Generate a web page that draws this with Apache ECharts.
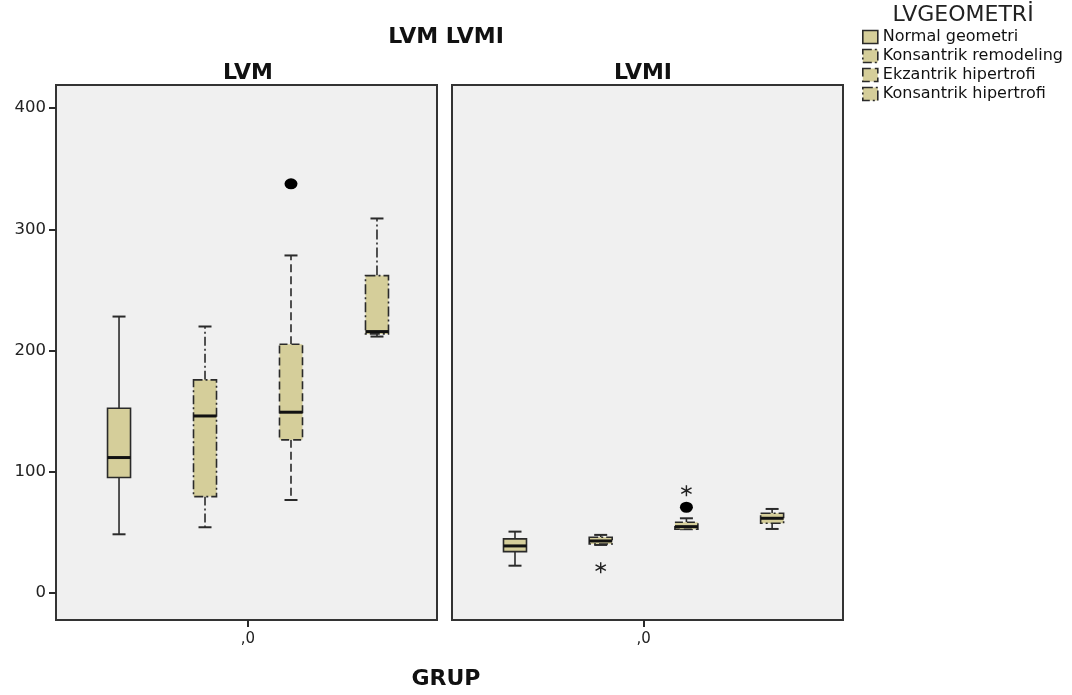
<!DOCTYPE html>
<html>
<head>
<meta charset="utf-8">
<script src="https://cdn.jsdelivr.net/npm/echarts@6/dist/echarts.min.js"></script>
<style>
  html, body { margin: 0; padding: 0; background: #ffffff; }
  #chart { width: 1072px; height: 695px; }
</style>
</head>
<body>
<div id="chart"></div>
<script>
// LV geometry groups (legend) and the two measured variables (panels)
const groups = ['Normal geometri', 'Konsantrik remodeling', 'Ekzantrik hipertrofi', 'Konsantrik hipertrofi'];
const panels = ['LVM', 'LVMI'];
const groupLabel = ',0';
const yTicks = [0, 100, 200, 300, 400];

// five-number summaries per group: [min, Q1, median, Q3, max]
const lvmBoxes = [
  [48.4, 95.2, 111.7, 152.4, 228.0],
  [54.2, 79.5, 146.0, 175.8, 219.8],
  [76.7, 126.3, 149.1, 205.2, 278.4],
  [211.5, 213.7, 215.6, 261.8, 308.9]
];
const lvmiBoxes = [
  [22.5, 34.1, 38.8, 44.6, 50.6],
  [39.6, 40.4, 42.9, 46.0, 47.9],
  [52.6, 52.6, 54.7, 58.3, 61.6],
  [52.8, 57.5, 61.6, 65.8, 69.3]
];

// outliers (circle) and extremes (asterisk): [group index, value]
const lvmOutliers = [[2, 337.5]];
const lvmExtremes = [];
const lvmiOutliers = [[2, 70.7]];
const lvmiExtremes = [[1, 20.9], [2, 84.4]];

// border dash pattern per group
const dashes = [null, [9, 3, 2, 3], [8, 4], [10, 3, 2, 3]];

const FILL = '#d5ce9a';
const INK = '#2a2a2a';
const FONT = 'DejaVu Sans';
const Y_MIN = -22.3, Y_MAX = 419;

// asterisk symbol: three crossing bars
const STAR = 'path://M-1.2,-10L1.2,-10L1.2,10L-1.2,10Z' +
  'M8.06,-6.04L9.26,-3.96L-8.06,6.04L-9.26,3.96Z' +
  'M9.26,3.96L8.06,6.04L-9.26,-3.96L-8.06,-6.04Z';

function boxRenderer(dash) {
  return function (params, api) {
    const x = api.value(0);
    const pt = i => api.coord([x, api.value(i)]);
    const lo = pt(1), q1 = pt(2), md = pt(3), q3 = pt(4), hi = pt(5);
    const cx = lo[0];
    const hw = 11.5, cw = 6.5;
    const dashed = { stroke: INK, lineWidth: 1.6, lineDash: dash, fill: null };
    const solid = { stroke: INK, lineWidth: 2, fill: null };
    return {
      type: 'group',
      children: [
        { type: 'line', shape: { x1: cx, y1: q3[1], x2: cx, y2: hi[1] }, style: dashed },
        { type: 'line', shape: { x1: cx, y1: q1[1], x2: cx, y2: lo[1] }, style: dashed },
        { type: 'line', shape: { x1: cx - cw, y1: hi[1], x2: cx + cw, y2: hi[1] }, style: solid },
        { type: 'line', shape: { x1: cx - cw, y1: lo[1], x2: cx + cw, y2: lo[1] }, style: solid },
        { type: 'rect', shape: { x: cx - hw, y: q3[1], width: 2 * hw, height: q1[1] - q3[1] },
          style: { fill: FILL, stroke: INK, lineWidth: 1.6, lineDash: dash } },
        { type: 'line', shape: { x1: cx - hw, y1: md[1], x2: cx + hw, y2: md[1] },
          style: { stroke: '#111', lineWidth: 3 } }
      ]
    };
  };
}

function xAxisFor(gridIndex, min, max) {
  return {
    type: 'value', gridIndex, min, max, position: 'bottom',
    axisLine: { show: false, onZero: false },
    splitLine: { show: false },
    axisTick: { show: true, customValues: [1.5], length: 7, lineStyle: { color: INK, width: 2 } },
    axisLabel: { show: true, customValues: [1.5], formatter: () => groupLabel,
      fontFamily: FONT, fontSize: 15, color: '#222', margin: 12 }
  };
}

const boxSets = [lvmBoxes, lvmiBoxes];
const outlierSets = [lvmOutliers, lvmiOutliers];
const extremeSets = [lvmExtremes, lvmiExtremes];

const series = [];
boxSets.forEach((boxes, p) => {
  groups.forEach((g, i) => {
    series.push({
      type: 'custom', name: g, xAxisIndex: p, yAxisIndex: p,
      renderItem: boxRenderer(dashes[i]),
      encode: { x: 0, y: [1, 2, 3, 4, 5] },
      itemStyle: { color: FILL },
      data: [[i].concat(boxes[i])]
    });
  });
  series.push({
    type: 'scatter', name: panels[p] + ' outliers', xAxisIndex: p, yAxisIndex: p,
    symbol: 'circle', symbolSize: [13, 11], itemStyle: { color: '#000', opacity: 1 },
    data: outlierSets[p], silent: true, z: 5
  });
  series.push({
    type: 'scatter', name: panels[p] + ' extremes', xAxisIndex: p, yAxisIndex: p,
    symbol: STAR, symbolSize: 11, itemStyle: { color: '#222', opacity: 1 },
    data: extremeSets[p], silent: true, z: 5
  });
});

const chart = echarts.init(document.getElementById('chart'), null, { renderer: 'canvas' });
chart.setOption({
  animation: false,
  backgroundColor: '#ffffff',
  grid: [
    { left: 56, top: 85, width: 381, bottom: 75, show: true, backgroundColor: '#f0f0f0',
      borderColor: '#333', borderWidth: 2 },
    { left: 452, top: 85, width: 391, bottom: 75, show: true, backgroundColor: '#f0f0f0',
      borderColor: '#333', borderWidth: 2 }
  ],
  xAxis: [xAxisFor(0, -0.733, 3.698), xAxisFor(1, -0.735, 3.827)],
  yAxis: [
    { type: 'value', gridIndex: 0, min: Y_MIN, max: Y_MAX, position: 'left',
      axisLine: { show: false, onZero: false }, splitLine: { show: false },
      axisTick: { show: true, customValues: yTicks, length: 7, lineStyle: { color: INK, width: 2 } },
      axisLabel: { show: true, customValues: yTicks, fontFamily: FONT, fontSize: 16.5, color: '#222', margin: 10 } },
    { type: 'value', gridIndex: 1, min: Y_MIN, max: Y_MAX,
      axisLine: { show: false, onZero: false }, splitLine: { show: false },
      axisTick: { show: false }, axisLabel: { show: false } }
  ],
  legend: {
    orient: 'vertical', left: 857, top: 24,
    itemWidth: 15, itemHeight: 13, itemGap: 3,
    icon: 'rect', selectedMode: false,
    textStyle: { fontFamily: FONT, fontSize: 16, color: '#111', lineHeight: 13 },
    data: groups.map((g, i) => ({
      name: g,
      itemStyle: { color: FILL, borderColor: INK, borderWidth: 1.6, borderType: dashes[i] || 'solid' }
    }))
  },
  graphic: [
    { type: 'text', x: 446, y: 37, style: { text: 'LVM LVMI', font: 'bold 22px "DejaVu Sans"', fill: '#111',
      textAlign: 'center', textVerticalAlign: 'middle' } },
    { type: 'text', x: 248, y: 73, style: { text: panels[0], font: 'bold 22px "DejaVu Sans"', fill: '#111',
      textAlign: 'center', textVerticalAlign: 'middle' } },
    { type: 'text', x: 643, y: 73, style: { text: panels[1], font: 'bold 22px "DejaVu Sans"', fill: '#111',
      textAlign: 'center', textVerticalAlign: 'middle' } },
    { type: 'text', x: 446, y: 679, style: { text: 'GRUP', font: 'bold 22px "DejaVu Sans"', fill: '#111',
      textAlign: 'center', textVerticalAlign: 'middle' } },
    { type: 'text', x: 963, y: 15, style: { text: 'LVGEOMETRİ', font: '22px "DejaVu Sans"', fill: '#222',
      textAlign: 'center', textVerticalAlign: 'middle' } }
  ],
  series
});
</script>
</body>
</html>
